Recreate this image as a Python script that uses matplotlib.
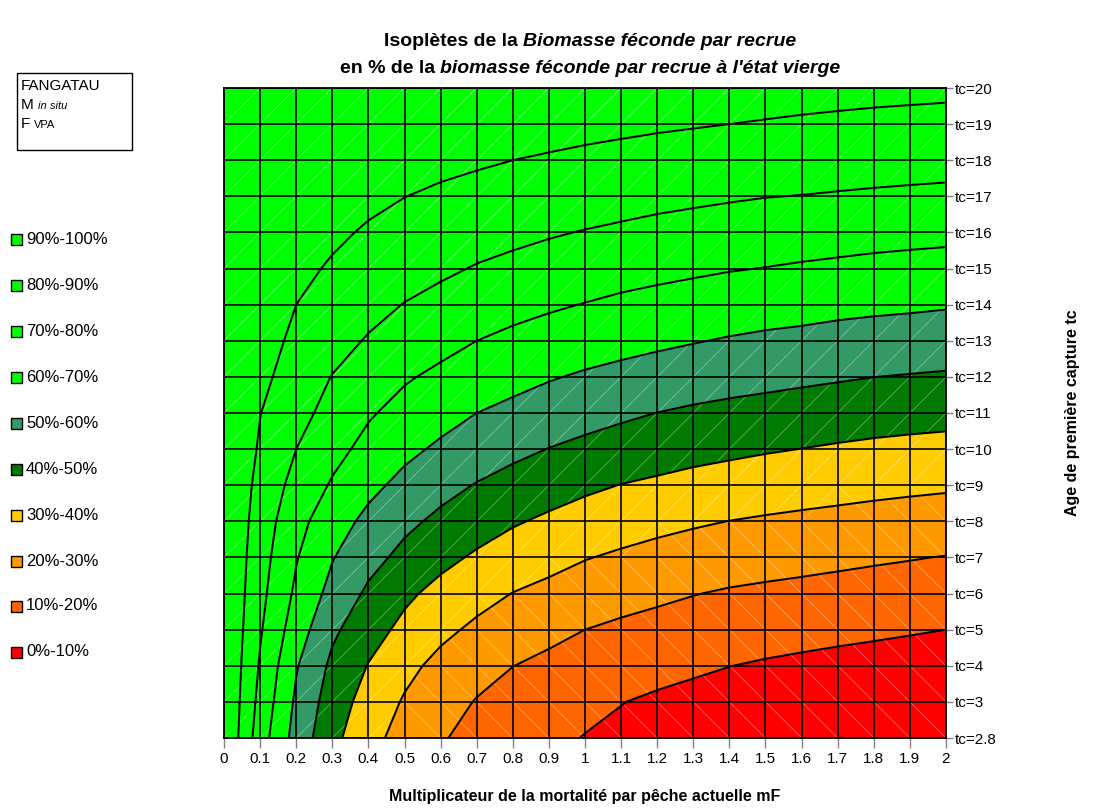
import numpy as np
import matplotlib
matplotlib.use('Agg')
import matplotlib.pyplot as plt
from matplotlib.patches import Rectangle
from matplotlib.collections import LineCollection

plt.rcParams['font.family'] = ['Liberation Sans', 'DejaVu Sans']

# ---------------- data ----------------
mF = [0.0, 0.1, 0.2, 0.3, 0.4, 0.5, 0.6, 0.7, 0.8, 0.9, 1.0,
      1.1, 1.2, 1.3, 1.4, 1.5, 1.6, 1.7, 1.8, 1.9, 2.0]
mF_labels = ['0', '0.1', '0.2', '0.3', '0.4', '0.5', '0.6', '0.7', '0.8', '0.9', '1',
             '1.1', '1.2', '1.3', '1.4', '1.5', '1.6', '1.7', '1.8', '1.9', '2']
tc_labels = ['tc=2.8', 'tc=3', 'tc=4', 'tc=5', 'tc=6', 'tc=7', 'tc=8', 'tc=9', 'tc=10',
             'tc=11', 'tc=12', 'tc=13', 'tc=14', 'tc=15', 'tc=16', 'tc=17', 'tc=18',
             'tc=19', 'tc=20']

# spawning biomass per recruit (% of virgin) for each tc row, along mF
bpr_tc2_8 = [100, 74.6, 56.2, 42.6, 33.2, 26.2, 20.8, 17.1, 14.1, 11.7, 9.7, 8.4, 7.3, 6.4, 5.7, 5.1, 4.6, 4.2, 3.8, 3.5, 3.2]
bpr_tc3 = [100, 77.0, 58.3, 45.1, 36.1, 29.1, 23.8, 19.5, 16.6, 14.1, 12.0, 10.2, 8.7, 7.6, 6.7, 6.0, 5.4, 4.9, 4.5, 4.1, 3.8]
bpr_tc4 = [100, 79.0, 60.8, 47.9, 39.6, 32.6, 27.4, 23.4, 20.1, 17.9, 15.9, 14.2, 12.7, 11.3, 10.1, 9.1, 8.3, 7.6, 7.0, 6.4, 5.9]
bpr_tc5 = [100, 81.0, 64.9, 51.8, 43.9, 37.6, 32.2, 28.2, 25.1, 22.4, 20.0, 18.2, 16.8, 15.6, 14.6, 13.7, 12.9, 12.1, 11.4, 10.7, 10.0]
bpr_tc6 = [100, 82.7, 68.2, 56.8, 48.3, 41.9, 37.1, 33.2, 29.8, 27.6, 25.5, 23.6, 21.9, 20.3, 19.0, 18.2, 17.6, 17.0, 16.4, 16.0, 15.6]
bpr_tc7 = [100, 84.0, 70.6, 60.5, 53.2, 47.4, 42.6, 38.7, 35.7, 32.9, 30.4, 28.7, 27.3, 26.1, 25.0, 23.8, 22.8, 21.9, 21.1, 20.4, 19.7]
bpr_tc8 = [100, 85.4, 73.2, 64.3, 57.6, 52.2, 47.9, 44.3, 40.9, 38.5, 36.2, 34.0, 32.3, 31.0, 29.9, 29.0, 28.2, 27.5, 26.8, 26.2, 25.6]
bpr_tc9 = [100, 87.0, 76.7, 69.0, 62.5, 57.3, 53.1, 49.5, 46.5, 43.9, 41.7, 39.8, 38.4, 37.0, 35.8, 34.8, 34.0, 33.2, 32.4, 31.75, 31.2]
bpr_tc10 = [100, 88.9, 80.0, 73.0, 67.2, 62.3, 58.4, 55.3, 52.4, 49.8, 47.8, 46.0, 44.5, 43.0, 41.9, 40.8, 39.9, 39.0, 38.2, 37.6, 37.1]
bpr_tc11 = [100, 90.2, 83.1, 76.8, 71.0, 66.9, 63.4, 60.0, 57.6, 55.4, 53.4, 51.6, 49.9, 48.5, 47.4, 46.5, 45.7, 44.9, 44.1, 43.5, 43.0]
bpr_tc12 = [100, 92.3, 85.7, 79.7, 75.2, 71.0, 68.0, 65.5, 63.0, 60.7, 58.9, 57.5, 56.2, 55.0, 53.8, 52.8, 51.8, 50.9, 50.05, 49.5, 49.0]
bpr_tc13 = [100, 93.7, 88.1, 83.4, 79.2, 76.0, 72.9, 70.0, 67.9, 66.1, 64.4, 62.9, 61.6, 60.45, 59.3, 58.3, 57.6, 56.7, 56.0, 55.5, 54.9]
bpr_tc14 = [100, 94.9, 90.0, 86.4, 83.0, 79.7, 77.2, 74.9, 72.9, 71.2, 69.7, 68.1, 66.9, 65.9, 64.9, 64.1, 63.4, 62.5, 61.9, 61.4, 60.8]
bpr_tc15 = [100, 96.0, 92.2, 89.0, 86.4, 84.0, 81.6, 79.4, 77.8, 76.3, 75.0, 73.8, 72.6, 71.5, 70.5, 69.8, 69.0, 68.3, 67.6, 67.1, 66.6]
bpr_tc16 = [100, 97.1, 94.3, 91.6, 89.0, 87.0, 85.3, 83.7, 82.2, 80.8, 79.6, 78.5, 77.4, 76.5, 75.7, 75.0, 74.4, 73.8, 73.2, 72.7, 72.3]
bpr_tc17 = [100, 97.9, 95.9, 93.9, 92.0, 90.1, 88.7, 87.5, 86.4, 85.4, 84.4, 83.5, 82.5, 81.7, 80.9, 80.2, 79.8, 79.3, 78.8, 78.4, 78.0]
bpr_tc18 = [100, 98.4, 96.9, 95.5, 94.2, 93.0, 92.0, 91.0, 90.0, 89.2, 88.4, 87.7, 87.0, 86.4, 85.8, 85.2, 84.8, 84.3, 83.9, 83.5, 83.2]
bpr_tc19 = [100, 99.1, 98.2, 97.4, 96.6, 95.8, 95.0, 94.3, 93.6, 92.9, 92.2, 91.6, 91.0, 90.5, 90.0, 89.6, 89.2, 88.8, 88.4, 88.1, 87.8]
bpr_tc20 = [100, 99.4, 98.8, 98.2, 97.6, 97.0, 96.4, 95.9, 95.4, 94.9, 94.4, 94.0, 93.6, 93.2, 92.9, 92.6, 92.3, 92.1, 91.9, 91.7, 91.5]

band_labels = ['90%-100%', '80%-90%', '70%-80%', '60%-70%', '50%-60%',
               '40%-50%', '30%-40%', '20%-30%', '10%-20%', '0%-10%']
band_colors = ['#00FF00', '#00FF00', '#00FF00', '#00FF00', '#339966',
               '#007A00', '#FFCC00', '#FF9900', '#FF6600', '#FF0000']
levels = [0, 10, 20, 30, 40, 50, 60, 70, 80, 90, 100.5]

Z = np.array([bpr_tc2_8, bpr_tc3, bpr_tc4, bpr_tc5, bpr_tc6, bpr_tc7, bpr_tc8,
              bpr_tc9, bpr_tc10, bpr_tc11, bpr_tc12, bpr_tc13, bpr_tc14, bpr_tc15,
              bpr_tc16, bpr_tc17, bpr_tc18, bpr_tc19, bpr_tc20])

# ---------------- figure ----------------
W, H = 1099, 811
fig = plt.figure(figsize=(W / 100, H / 100), dpi=100)
fig.patch.set_facecolor('white')

def fx(px):
    return px / W

def fy(py):
    return 1 - py / H

ax = fig.add_axes([fx(224), fy(738), fx(946) - fx(224), fy(88) - fy(738)])

x = np.array(mF)
y = np.arange(len(tc_labels))
X, Y = np.meshgrid(x, y)

ax.contourf(X, Y, Z, levels=levels, colors=band_colors[::-1], zorder=1)

# faint triangulation seams (as in the spreadsheet surface rendering)
segs = []
for j in range(len(y) - 1):
    for i in range(len(x) - 1):
        m = Z[j:j + 2, i:i + 2].mean()
        if m < 30:
            segs.append([(x[i], y[j + 1]), (x[i + 1], y[j])])
        else:
            segs.append([(x[i], y[j]), (x[i + 1], y[j + 1])])
ax.add_collection(LineCollection(segs, colors='white', linewidths=0.5, alpha=0.45, zorder=2))

# grid
for xv in x:
    ax.axvline(xv, color='black', lw=1.2, zorder=3)
for yv in y:
    ax.axhline(yv, color='black', lw=1.2, zorder=3)

ax.contour(X, Y, Z, levels=[10, 20, 30, 40, 50, 60, 70, 80, 90], colors='black',
           linewidths=1.45, zorder=4)

ax.set_xlim(0, 2)
ax.set_ylim(0, 18)
for s in ax.spines.values():
    s.set_color('black')
    s.set_linewidth(1.3)
    s.set_zorder(5)

ax.set_xticks(x)
ax.set_xticklabels(mF_labels)
ax.yaxis.tick_right()
ax.set_yticks(y)
ax.set_yticklabels(tc_labels)
ax.tick_params(axis='x', length=7, width=1, color='#808080', pad=3, labelsize=11)
ax.tick_params(axis='y', length=5, width=1, color='#808080', pad=1, labelsize=11,
               left=False, right=True)

# axis titles
fig.text(fx(585), fy(796), 'Multiplicateur de la mortalité par pêche actuelle mF',
         ha='center', va='center', fontsize=11.5, fontweight='bold')
fig.text(fx(1072), fy(413), 'Age de première capture tc', rotation=90,
         ha='center', va='center', fontsize=11.5, fontweight='bold')

# mixed-style title lines
renderer = fig.canvas.get_renderer()

def mixed_line(xc_px, base_px, parts, size):
    sp = fig.text(0, 0, 'x x', fontsize=size, fontweight='bold')
    sp2 = fig.text(0, 0, 'xx', fontsize=size, fontweight='bold')
    space_w = sp.get_window_extent(renderer).width - sp2.get_window_extent(renderer).width
    sp.remove(); sp2.remove()
    items = []
    total = 0
    for k, (s, style) in enumerate(parts):
        t = fig.text(0, fy(base_px), s, fontsize=size, fontweight='bold',
                     fontstyle=style, va='baseline', ha='left')
        w = t.get_window_extent(renderer).width
        items.append((t, w))
        total += w
        if k < len(parts) - 1:
            total += space_w
    cur = xc_px - total / 2
    for k, (t, w) in enumerate(items):
        t.set_x(fx(cur))
        cur += w + space_w

mixed_line(590, 46, [('Isoplètes de la', 'normal'),
                     ('Biomasse féconde par recrue', 'italic')], 14)
mixed_line(590, 73, [('en % de la', 'normal'),
                     ("biomasse féconde par recrue à l'état vierge", 'italic')], 14)

# info box
fig.add_artist(Rectangle((fx(17), fy(150)), fx(132) - fx(17), fy(73) - fy(150),
                         transform=fig.transFigure, facecolor='white',
                         edgecolor='black', lw=1.0))
fig.text(fx(21), fy(90), 'FANGATAU', fontsize=11, va='baseline')
t = fig.text(fx(21), fy(109), 'M', fontsize=11, va='baseline')
wM = t.get_window_extent(renderer).width
fig.text(fx(21 + wM + 4), fy(109), 'in situ', fontsize=8, fontstyle='italic', va='baseline')
t = fig.text(fx(21), fy(128), 'F', fontsize=11, va='baseline')
wF = t.get_window_extent(renderer).width
fig.text(fx(21 + wF + 4), fy(128), 'VPA', fontsize=8, va='baseline')

# legend
leg_y = [239, 285, 331, 377, 423, 469, 515, 561, 606, 652]
for lab, col, yy in zip(band_labels, band_colors, leg_y):
    fig.add_artist(Rectangle((fx(11), fy(yy + 5.5)), fx(11), 11 / H,
                             transform=fig.transFigure, facecolor=col,
                             edgecolor='black', lw=1.0))
    fig.text(fx(26), fy(yy), lab, fontsize=12, va='center', ha='left')

fig.savefig('out.png', dpi=100)
